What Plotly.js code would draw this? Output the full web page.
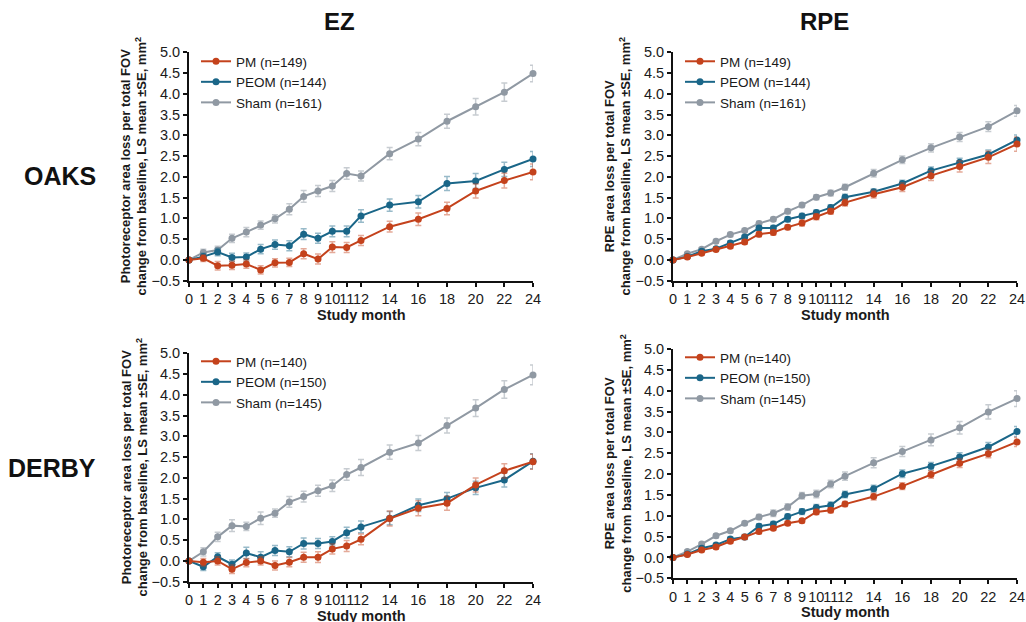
<!DOCTYPE html>
<html>
<head>
<meta charset="utf-8">
<script src="https://cdn.plot.ly/plotly-3.0.1.min.js"></script>
<style>html,body{margin:0;padding:0;background:#fff;}#chart{width:1026px;height:622px;}</style>
</head>
<body>
<div id="chart"></div>
<script>
// ---- data ----
const months = [0,1,2,3,4,5,6,7,8,9,10,11,12,14,16,18,20,22,24];
const monthLabels = ["0","1","2","3","4","5","6","7","8","9","10","11","12","14","16","18","20","22","24"];

// OAKS – EZ
const oaksEzPM    = [0,0.04,-0.14,-0.13,-0.10,-0.24,-0.07,-0.06,0.15,0.02,0.31,0.30,0.47,0.80,0.98,1.24,1.66,1.91,2.12];
const oaksEzPMse  = [0,0.08,0.10,0.10,0.10,0.10,0.10,0.10,0.12,0.12,0.13,0.12,0.12,0.13,0.15,0.15,0.17,0.18,0.19];
const oaksEzPEOM  = [0,0.08,0.19,0.06,0.07,0.26,0.37,0.34,0.62,0.52,0.69,0.69,1.06,1.32,1.40,1.84,1.90,2.18,2.43];
const oaksEzPEOMse= [0,0.08,0.09,0.10,0.10,0.11,0.11,0.12,0.13,0.12,0.13,0.13,0.15,0.15,0.15,0.17,0.18,0.17,0.18];
const oaksEzSham  = [0,0.18,0.24,0.52,0.67,0.84,0.99,1.22,1.53,1.66,1.78,2.08,2.02,2.56,2.91,3.34,3.69,4.04,4.49];
const oaksEzShamse= [0,0.08,0.09,0.10,0.11,0.10,0.10,0.13,0.14,0.13,0.13,0.14,0.12,0.15,0.16,0.17,0.20,0.22,0.20];

// OAKS – RPE
const oaksRpePM    = [0,0.07,0.16,0.25,0.33,0.43,0.62,0.66,0.79,0.89,1.04,1.17,1.38,1.58,1.75,2.03,2.25,2.47,2.79];
const oaksRpePMse  = [0,0.03,0.04,0.04,0.05,0.05,0.06,0.06,0.06,0.07,0.07,0.07,0.08,0.09,0.10,0.12,0.13,0.15,0.17];
const oaksRpePEOM  = [0,0.08,0.21,0.27,0.41,0.55,0.77,0.77,0.98,1.06,1.14,1.26,1.51,1.64,1.84,2.15,2.35,2.54,2.89];
const oaksRpePEOMse= [0,0.03,0.04,0.04,0.05,0.05,0.05,0.06,0.06,0.06,0.06,0.07,0.07,0.07,0.08,0.09,0.10,0.11,0.12];
const oaksRpeSham  = [0,0.15,0.26,0.45,0.61,0.71,0.88,0.98,1.17,1.32,1.51,1.61,1.75,2.09,2.41,2.70,2.96,3.21,3.59];
const oaksRpeShamse= [0,0.03,0.04,0.04,0.05,0.05,0.05,0.05,0.06,0.06,0.06,0.07,0.07,0.09,0.09,0.10,0.11,0.12,0.13];

// DERBY – EZ
const derbyEzPM    = [0,-0.03,0.00,-0.20,-0.04,0.00,-0.11,-0.03,0.09,0.09,0.29,0.36,0.52,1.02,1.27,1.39,1.83,2.17,2.39];
const derbyEzPMse  = [0,0.09,0.10,0.10,0.10,0.10,0.11,0.11,0.12,0.13,0.12,0.13,0.13,0.18,0.18,0.17,0.17,0.17,0.18];
const derbyEzPEOM  = [0,-0.14,0.10,-0.08,0.19,0.09,0.25,0.22,0.42,0.42,0.47,0.68,0.82,1.03,1.34,1.50,1.76,1.95,2.40];
const derbyEzPEOMse= [0,0.09,0.10,0.10,0.14,0.13,0.12,0.12,0.13,0.12,0.11,0.13,0.14,0.16,0.15,0.15,0.16,0.17,0.18];
const derbyEzSham  = [0,0.22,0.58,0.85,0.83,1.03,1.15,1.42,1.55,1.69,1.81,2.08,2.25,2.62,2.84,3.26,3.68,4.13,4.48];
const derbyEzShamse= [0,0.10,0.11,0.14,0.10,0.15,0.10,0.13,0.13,0.13,0.14,0.14,0.19,0.17,0.18,0.18,0.20,0.21,0.24];

// DERBY – RPE
const derbyRpePM    = [0,0.07,0.18,0.25,0.39,0.49,0.62,0.70,0.82,0.88,1.09,1.13,1.28,1.46,1.71,1.99,2.26,2.49,2.77];
const derbyRpePMse  = [0,0.03,0.04,0.05,0.05,0.05,0.05,0.05,0.05,0.05,0.06,0.06,0.06,0.08,0.08,0.09,0.10,0.10,0.11];
const derbyRpePEOM  = [0,0.08,0.22,0.30,0.44,0.49,0.75,0.80,0.98,1.10,1.20,1.25,1.51,1.65,2.01,2.19,2.41,2.65,3.02];
const derbyRpePEOMse= [0,0.03,0.04,0.04,0.05,0.06,0.06,0.06,0.06,0.07,0.07,0.08,0.08,0.08,0.09,0.09,0.10,0.11,0.12];
const derbyRpeSham  = [0,0.14,0.32,0.52,0.64,0.82,0.97,1.06,1.21,1.48,1.52,1.76,1.95,2.27,2.54,2.82,3.11,3.49,3.81];
const derbyRpeShamse= [0,0.03,0.04,0.05,0.05,0.05,0.06,0.08,0.08,0.08,0.09,0.09,0.10,0.12,0.12,0.14,0.15,0.17,0.19];

const oaksN  = {PM:149, PEOM:144, Sham:161};
const derbyN = {PM:140, PEOM:150, Sham:145};

const colTitles = ["EZ","RPE"];
const rowTitles = ["OAKS","DERBY"];
const yTitleEZ  = "Photoreceptor area loss per total FOV<br>change from baseline, LS mean ±SE, mm<sup>2</sup>";
const yTitleRPE = "RPE area loss per total FOV<br>change from baseline, LS mean ±SE, mm<sup>2</sup>";
const xTitle = "Study month";

// ---- styling ----
const FONT = "Liberation Sans, Arial, Helvetica, sans-serif";
const colors = {PM:"#C4421C", PEOM:"#1A6688", Sham:"#9099A3"};
const errColors = {PM:"rgba(196,66,28,0.45)", PEOM:"rgba(26,102,136,0.45)", Sham:"rgba(144,153,163,0.5)"};

const W = 1026, H = 622;
const px = v => v / W;
const py = v => 1 - v / H;

const panels = [
  {xa:"x",  ya:"y",  leg:"legend",  n:oaksN,  s:{PM:[oaksEzPM,oaksEzPMse],PEOM:[oaksEzPEOM,oaksEzPEOMse],Sham:[oaksEzSham,oaksEzShamse]},
   xd:[189,533], yd:[52.3,280.7], legPos:[196,46], yt:yTitleEZ},
  {xa:"x2", ya:"y2", leg:"legend2", n:oaksN,  s:{PM:[oaksRpePM,oaksRpePMse],PEOM:[oaksRpePEOM,oaksRpePEOMse],Sham:[oaksRpeSham,oaksRpeShamse]},
   xd:[673,1017], yd:[52.3,280.7], legPos:[680,46], yt:yTitleRPE},
  {xa:"x3", ya:"y3", leg:"legend3", n:derbyN, s:{PM:[derbyEzPM,derbyEzPMse],PEOM:[derbyEzPEOM,derbyEzPEOMse],Sham:[derbyEzSham,derbyEzShamse]},
   xd:[189,533], yd:[353.3,581.7], legPos:[196,346], yt:yTitleEZ},
  {xa:"x4", ya:"y4", leg:"legend4", n:derbyN, s:{PM:[derbyRpePM,derbyRpePMse],PEOM:[derbyRpePEOM,derbyRpePEOMse],Sham:[derbyRpeSham,derbyRpeShamse]},
   xd:[673,1017], yd:[349,578.3], legPos:[680,342], yt:yTitleRPE}
];

const traces = [];
const layout = {
  width: W, height: H,
  margin: {l:0, r:0, t:0, b:0},
  paper_bgcolor: "#fff", plot_bgcolor: "#fff",
  font: {family: FONT, color: "#1a1a1a", size: 13},
  showlegend: true,
  annotations: [],
  shapes: []
};

panels.forEach((p, i) => {
  ["Sham","PEOM","PM"].forEach(g => {
    traces.push({
      type: "scatter", mode: "lines+markers",
      x: months, y: p.s[g][0],
      name: g + " (n=" + p.n[g] + ")",
      xaxis: p.xa, yaxis: p.ya, legend: p.leg,
      line: {color: colors[g], width: 2},
      marker: {color: colors[g], size: 7},
      error_y: {type: "data", array: p.s[g][1], visible: true, color: errColors[g], thickness: 1.5, width: 3},
      cliponaxis: false
    });
  });
  const xk = "xaxis" + (i ? i + 1 : "");
  const yk = "yaxis" + (i ? i + 1 : "");
  layout[xk] = {
    domain: [px(p.xd[0]), px(p.xd[1])], anchor: p.ya,
    range: [0, 24], tickmode: "array", tickvals: months, ticktext: monthLabels,
    tickangle: 0,
    showgrid: false, zeroline: false, showline: true, linecolor: "#111", linewidth: 2,
    ticks: "outside", ticklen: 4, tickwidth: 2, tickcolor: "#111",
    tickfont: {size: 14.5, family: FONT, color: "#1a1a1a"}, fixedrange: true
  };
  layout[yk] = {
    domain: [py(p.yd[1]), py(p.yd[0])], anchor: p.xa,
    range: [-0.5, 5.0], dtick: 0.5, tick0: 0, tickformat: ".1f",
    showgrid: false, zeroline: false, showline: true, linecolor: "#111", linewidth: 2,
    ticks: "outside", ticklen: 4, tickwidth: 2, tickcolor: "#111",
    tickfont: {size: 14.5, family: FONT, color: "#1a1a1a"}, fixedrange: true
  };
  layout[p.leg] = {
    x: px(p.legPos[0]), y: py(p.legPos[1]), xanchor: "left", yanchor: "top",
    xref: "paper", yref: "paper", traceorder: "reversed",
    bgcolor: "rgba(0,0,0,0)", borderwidth: 0,
    font: {size: 13.5, family: FONT, color: "#1a1a1a"}, itemwidth: 30
  };
  // y-axis title
  layout.annotations.push({
    xref: "paper", yref: "paper",
    x: px(p.xd[0] - 55), y: py((p.yd[0] + p.yd[1]) / 2),
    text: "<b>" + p.yt + "</b>", textangle: -90, showarrow: false,
    xanchor: "center", yanchor: "middle",
    font: {size: 13, family: FONT, color: "#1a1a1a"}
  });
  // x-axis title
  layout.annotations.push({
    xref: "paper", yref: "paper",
    x: px((p.xd[0] + p.xd[1]) / 2), y: py(p.yd[1] + 34),
    text: "<b>" + xTitle + "</b>", showarrow: false,
    xanchor: "center", yanchor: "middle",
    font: {size: 14.5, family: FONT, color: "#1a1a1a"}
  });
});

// column titles
[[339, colTitles[0]], [824, colTitles[1]]].forEach(([xx, t]) => {
  layout.annotations.push({
    xref: "paper", yref: "paper", x: px(xx), y: py(22),
    text: "<b>" + t + "</b>", showarrow: false, xanchor: "center", yanchor: "middle",
    font: {size: 24, family: FONT, color: "#111"}
  });
});
// row titles
[[60, 176, rowTitles[0]], [52, 468, rowTitles[1]]].forEach(([xx, yy, t]) => {
  layout.annotations.push({
    xref: "paper", yref: "paper", x: px(xx), y: py(yy),
    text: "<b>" + t + "</b>", showarrow: false, xanchor: "center", yanchor: "middle",
    font: {size: 25, family: FONT, color: "#111"}
  });
});

Plotly.newPlot("chart", traces, layout, {staticPlot: true, displayModeBar: false});
</script>
</body>
</html>
